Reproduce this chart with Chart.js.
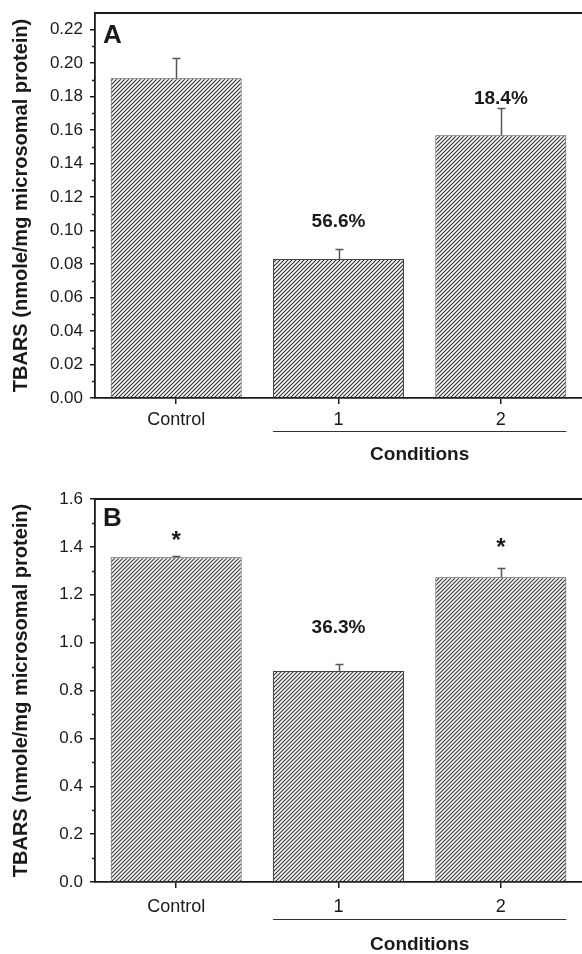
<!DOCTYPE html>
<html>
<head>
<meta charset="utf-8">
<script src="https://cdn.jsdelivr.net/npm/chart.js@4.4.0/dist/chart.umd.min.js"></script>
<style>
  html, body { margin: 0; padding: 0; background: #fff; }
  .panel { position: absolute; left: 0; width: 582px; height: 477px; }
  #panelA { top: 0; }
  #panelB { top: 477px; }
</style>
</head>
<body>
<div class="panel" id="panelA"><canvas id="chartA" width="582" height="477"></canvas></div>
<div class="panel" id="panelB"><canvas id="chartB" width="582" height="477"></canvas></div>
<script>
const categories = ["Control", "1", "2"];

// panel A
const tbarsA = [0.191, 0.083, 0.157];
const errorA = [0.012, 0.006, 0.016];
const notesA = ["", "56.6%", "18.4%"];
const yTicksA = [0, 0.02, 0.04, 0.06, 0.08, 0.10, 0.12, 0.14, 0.16, 0.18, 0.20, 0.22];

// panel B
const tbarsB = [1.357, 0.881, 1.273];
const errorB = [0.005, 0.029, 0.038];
const notesB = ["*", "36.3%", "*"];
const yTicksB = [0, 0.2, 0.4, 0.6, 0.8, 1.0, 1.2, 1.4, 1.6];

const yTitle = "TBARS (nmole/mg microsomal protein)";
const groupTitle = "Conditions";
const FONT = "'Liberation Sans', Arial, sans-serif";
const INK = "#1a1a1a";

function hatchPattern() {
    const c = document.createElement("canvas");
    c.width = 4;
    c.height = 4;
    const g = c.getContext("2d");
    g.fillStyle = "#ffffff";
    g.fillRect(0, 0, 4, 4);
    g.strokeStyle = "#333";
    g.lineWidth = 1.15;
    g.beginPath();
    g.moveTo(-1, 5); g.lineTo(5, -1);
    g.moveTo(-1, 1); g.lineTo(1, -1);
    g.moveTo(3, 5); g.lineTo(5, 3);
    g.stroke();
    return g.createPattern(c, "repeat");
}

function midpoints(ticks) {
    const out = [];
    for (let i = 0; i < ticks.length - 1; i++) out.push((ticks[i] + ticks[i + 1]) / 2);
    return out;
}

const decorPlugin = {
    id: "decor",
    afterDatasetsDraw(chart, args, opts) {
        const ctx = chart.ctx;
        const area = chart.chartArea;
        const y = chart.scales.y;
        const meta = chart.getDatasetMeta(0);
        ctx.save();

        // frame line on top
        ctx.strokeStyle = INK;
        ctx.lineWidth = 2;
        ctx.beginPath();
        ctx.moveTo(area.left, area.top);
        ctx.lineTo(area.right, area.top);
        ctx.stroke();

        // minor ticks
        ctx.lineWidth = 1.5;
        opts.minor.forEach((v) => {
            const py = Math.round(y.getPixelForValue(v)) + 0.5;
            ctx.beginPath();
            ctx.moveTo(area.left - 3, py);
            ctx.lineTo(area.left, py);
            ctx.stroke();
        });

        // error bars (upper only)
        ctx.strokeStyle = "#555";
        ctx.lineWidth = 1.5;
        opts.values.forEach((v, i) => {
            const cx = Math.round(meta.data[i].x) + 0.5;
            const y0 = y.getPixelForValue(v);
            const y1 = Math.round(y.getPixelForValue(v + opts.errors[i])) + 0.5;
            ctx.beginPath();
            ctx.moveTo(cx, y0);
            ctx.lineTo(cx, y1);
            ctx.moveTo(cx - 4, y1);
            ctx.lineTo(cx + 4, y1);
            ctx.stroke();
        });

        // notes above bars
        ctx.fillStyle = INK;
        ctx.textAlign = "center";
        ctx.textBaseline = "alphabetic";
        opts.notes.forEach((t, i) => {
            if (!t) return;
            const top = y.getPixelForValue(opts.values[i] + opts.errors[i]);
            ctx.font = (t === "*" ? "bold 24px " : "bold 19px ") + FONT;
            ctx.fillText(t, meta.data[i].x, top - opts.noteGap[i]);
        });

        // panel letter
        ctx.textAlign = "left";
        ctx.font = "bold 26px " + FONT;
        ctx.fillText(opts.letter, area.left + 8, area.top + opts.letterDrop);

        // group line + title under conditions 1 and 2
        const b1 = meta.data[1], b2 = meta.data[2];
        const lx = b1.x - b1.width / 2, rx = b2.x + b2.width / 2;
        const ly = Math.round(area.bottom + opts.lineDrop) + 0.5;
        ctx.strokeStyle = "#333";
        ctx.lineWidth = 1.2;
        ctx.beginPath();
        ctx.moveTo(lx, ly);
        ctx.lineTo(rx, ly);
        ctx.stroke();
        ctx.textAlign = "center";
        ctx.font = "bold 19px " + FONT;
        ctx.fillText(groupTitle, (lx + rx) / 2, area.bottom + opts.titleDrop);

        ctx.restore();
    },
};

function makeChart(id, cfg) {
    return new Chart(document.getElementById(id), {
        type: "bar",
        data: {
            labels: categories,
            datasets: [
                {
                    data: cfg.values,
                    backgroundColor: hatchPattern(),
                    borderColor: "#444",
                    borderWidth: 1,
                    barPercentage: 0.807,
                    categoryPercentage: 1,
                },
            ],
        },
        options: {
            responsive: false,
            animation: false,
            layout: { padding: { top: cfg.top, left: 0, right: 0, bottom: 0 } },
            scales: {
                x: {
                    afterFit: (s) => {
                        s.height = cfg.xHeight;
                        s.paddingLeft = 0;
                        s.paddingRight = 0;
                    },
                    grid: {
                        offset: false,
                        drawOnChartArea: false,
                        tickLength: 6,
                        color: INK,
                        lineWidth: 1.5,
                    },
                    border: { color: INK, width: 1.8 },
                    ticks: {
                        color: INK,
                        padding: cfg.xPad,
                        font: { family: FONT, size: 18 },
                    },
                },
                y: {
                    min: 0,
                    max: cfg.max,
                    afterFit: (s) => {
                        s.width = 95;
                        s.paddingTop = 0;
                        s.paddingBottom = 0;
                    },
                    afterBuildTicks: (s) => { s.ticks = cfg.ticks.map((v) => ({ value: v })); },
                    grid: {
                        drawOnChartArea: false,
                        tickLength: 5,
                        color: INK,
                        lineWidth: 1.5,
                    },
                    border: { color: INK, width: 1.8 },
                    ticks: {
                        color: INK,
                        padding: 7,
                        font: { family: FONT, size: 17 },
                        callback: (v) => Number(v).toFixed(cfg.digits),
                    },
                    title: {
                        display: true,
                        text: yTitle,
                        color: INK,
                        padding: { top: 9, bottom: 0 },
                        font: { family: FONT, size: 20, weight: "bold" },
                    },
                },
            },
            plugins: {
                legend: { display: false },
                tooltip: { enabled: false },
                decor: {
                    values: cfg.values,
                    errors: cfg.errors,
                    notes: cfg.notes,
                    noteGap: cfg.noteGap,
                    minor: midpoints(cfg.ticks),
                    letter: cfg.letter,
                    letterDrop: cfg.letterDrop,
                    lineDrop: cfg.lineDrop,
                    titleDrop: cfg.titleDrop,
                },
            },
        },
        plugins: [decorPlugin],
    });
}

makeChart("chartA", {
    values: tbarsA, errors: errorA, notes: notesA, ticks: yTicksA,
    max: 0.23, digits: 2, letter: "A",
    top: 13, xHeight: 79, xPad: 5,
    noteGap: [0, 22, 4], letterDrop: 30, lineDrop: 33, titleDrop: 62,
});

makeChart("chartB", {
    values: tbarsB, errors: errorB, notes: notesB, ticks: yTicksB,
    max: 1.6, digits: 1, letter: "B",
    top: 22, xHeight: 72, xPad: 8,
    noteGap: [8, 31, 13], letterDrop: 27, lineDrop: 37, titleDrop: 68,
});
</script>
</body>
</html>
